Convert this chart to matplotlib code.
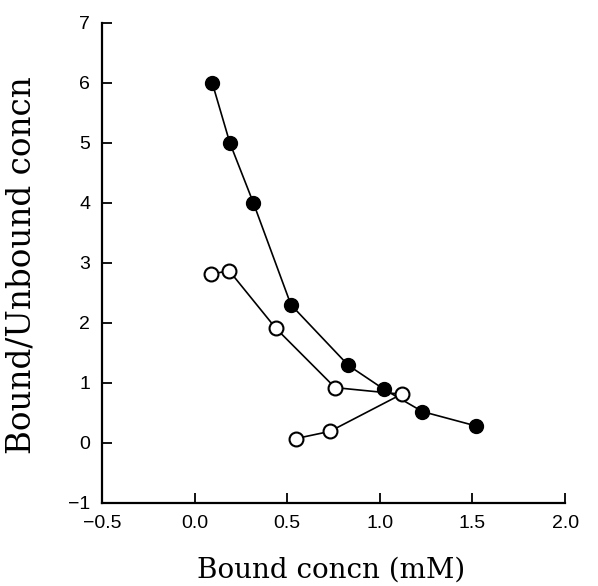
import matplotlib
matplotlib.use("Agg")
import matplotlib.pyplot as plt

# filled circles
bound_filled = [0.095, 0.19, 0.317, 0.52, 0.83, 1.023, 1.23, 1.52]
ratio_filled = [6.0, 5.0, 4.0, 2.3, 1.29, 0.89, 0.52, 0.28]

# open circles (joined in the order measured)
bound_open = [0.09, 0.186, 0.438, 0.758, 1.117, 0.73, 0.546]
ratio_open = [2.81, 2.87, 1.91, 0.92, 0.81, 0.19, 0.07]

x_ticks = [-0.5, 0.0, 0.5, 1.0, 1.5, 2.0]
y_ticks = [-1, 0, 1, 2, 3, 4, 5, 6, 7]

fig = plt.figure(figsize=(5.98, 5.86), dpi=100)
ax = fig.add_axes([0.1706, 0.142, 0.7744, 0.819])

ax.plot(bound_filled, ratio_filled, "-o", color="black", lw=1.2,
        markersize=10, markerfacecolor="black", markeredgecolor="black", zorder=3)
ax.plot(bound_open, ratio_open, "-o", color="black", lw=1.2,
        markersize=10, markerfacecolor="white", markeredgecolor="black",
        markeredgewidth=1.5, zorder=3)

ax.set_xlim(-0.5, 2.0)
ax.set_ylim(-1, 7)
ax.set_xticks(x_ticks)
ax.set_xticklabels(["\u22120.5", "0.0", "0.5", "1.0", "1.5", "2.0"])
ax.set_yticks(y_ticks)
ax.set_yticklabels(["\u22121"] + [str(v) for v in y_ticks[1:]])

for s in ["top", "right"]:
    ax.spines[s].set_visible(False)
for s in ["left", "bottom"]:
    ax.spines[s].set_linewidth(1.6)

ax.tick_params(direction="in", length=7, width=1.3, labelsize=14, pad=8.5)
for lab in ax.get_xticklabels() + ax.get_yticklabels():
    lab.set_family("Liberation Sans")

ax.set_xlabel("Bound concn (mM)", fontsize=20, family="DejaVu Serif", va="center")
ax.xaxis.set_label_coords(0.495, -0.14)
ax.set_ylabel("Bound/Unbound concn", fontsize=23.5, family="DejaVu Serif", va="center")
ax.yaxis.set_label_coords(-0.173, 0.495)

plt.savefig("out.png", dpi=100)
